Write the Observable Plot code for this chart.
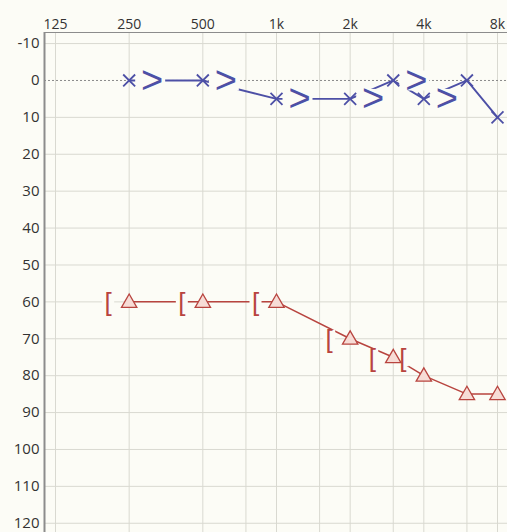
<!DOCTYPE html>
<html><head><meta charset="utf-8">
<script src="https://cdn.jsdelivr.net/npm/d3@7"></script>
<script src="https://cdn.jsdelivr.net/npm/@observablehq/plot@0.6"></script>
<style>
body{margin:0;background:#fcfcf6;}
#chart svg{display:block;}
</style></head>
<body><div id="chart"></div>
<script>
// Tick labels and grid
const freqTicks = [125, 250, 500, 1000, 2000, 4000, 8000];
const freqLabels = ["125", "250", "500", "1k", "2k", "4k", "8k"];
const halfOctaves = [750, 1500, 3000, 6000];
const dbTicks = [-10, 0, 10, 20, 30, 40, 50, 60, 70, 80, 90, 100, 110, 120];

// Left ear (blue): air conduction ×, bone conduction >
const airFreqs = [250, 500, 1000, 2000, 3000, 4000, 6000, 8000];
const leftAir = [0, 0, 5, 5, 0, 5, 0, 10];
const boneFreqs = [250, 500, 1000, 2000, 3000, 4000];
const leftBone = [0, 0, 5, 5, 0, 5];

// Right ear (red), masked: air Δ, bone [
const rightAir = [60, 60, 60, 70, 75, 80, 85, 85];
const rightBone = [60, 60, 60, 70, 75, 75];

const W = 507, H = 532, mL = 44, mT = 32;
const pxPerOct = 73.67;
const xLo = 125 * Math.pow(2, -(55 - mL) / pxPerOct);
const xHi = 8000 * Math.pow(2, (W - 497) / pxPerOct);
const yLo = -13, yHi = 122.5;

const blue = "#4d50a6";
const red = "#b8443f";
const bg = "#fcfcf6";

const la = airFreqs.map((f, i) => ({f, v: leftAir[i]}));
const lb = boneFreqs.map((f, i) => ({f, v: leftBone[i]}));
const ra = airFreqs.map((f, i) => ({f, v: rightAir[i]}));
const rb = boneFreqs.map((f, i) => ({f, v: rightBone[i]}));
const xl = freqTicks.map((f, i) => ({f, label: freqLabels[i]}));

// background patches behind bone symbols (style only)
const boxL = {draw(ctx) { ctx.rect(-16, -10, 30, 20); ctx.closePath(); }};
const boxR = {draw(ctx) { ctx.rect(-6, -9, 12, 18); ctx.closePath(); }};

const chart = Plot.plot({
  width: W, height: H,
  marginLeft: mL, marginTop: mT, marginRight: 0, marginBottom: 0,
  style: {background: bg, fontFamily: "'Open Sans', sans-serif", fontSize: "14px", color: "#333"},
  x: {type: "log", domain: [xLo, xHi], label: null},
  y: {domain: [yLo, yHi], reverse: true, label: null},
  marks: [
    Plot.gridX(freqTicks.concat(halfOctaves), {stroke: "#d9d9d1", strokeOpacity: 1}),
    Plot.gridY(dbTicks.filter(d => d !== 0), {stroke: "#d9d9d1", strokeOpacity: 1}),
    Plot.ruleY([0], {stroke: "#8a8a8a", strokeDasharray: "2,2", strokeWidth: 1}),
    Plot.ruleX([xLo], {stroke: "#8c8c8c", strokeWidth: 2}),
    Plot.ruleY([yLo], {stroke: "#8c8c8c", strokeWidth: 1.2}),
    Plot.text(xl, {x: "f", frameAnchor: "top", dy: -4, lineAnchor: "bottom", text: "label",
      fill: "#333", fontSize: 14, textAnchor: "middle"}),
    Plot.axisY({anchor: "left", ticks: dbTicks, tickSize: 0, tickPadding: 5, label: null,
      tickFormat: d => String(d), fill: "#333", fontSize: 15}),
    // Left ear
    Plot.line(la, {x: "f", y: "v", stroke: blue, strokeWidth: 1.9}),
    Plot.dot(lb, {x: "f", y: "v", dx: 22, symbol: boxL, fill: bg, stroke: null}),
    Plot.text(lb, {x: "f", y: "v", dx: 23, text: () => ">", fill: blue, fontSize: 38, fontFamily: "Liberation Sans"}),
    Plot.dot(la, {x: "f", y: "v", symbol: "times", r: 5.5, stroke: blue, strokeWidth: 1.8}),
    // Right ear
    Plot.line(ra, {x: "f", y: "v", stroke: red, strokeWidth: 1.5}),
    Plot.dot(rb, {x: "f", y: "v", dx: -21, symbol: boxR, fill: bg, stroke: null}),
    Plot.text(rb, {x: "f", y: "v", dx: -21, dy: 1, text: () => "[", fill: red, fontSize: 26, fontFamily: "Liberation Sans"}),
    Plot.dot(ra, {x: "f", y: "v", symbol: "triangle", r: 5.7, dy: 1, stroke: red, fill: "#f7dcd6", strokeWidth: 1.3})
  ]
});
document.getElementById("chart").appendChild(chart);
</script>
</body></html>
